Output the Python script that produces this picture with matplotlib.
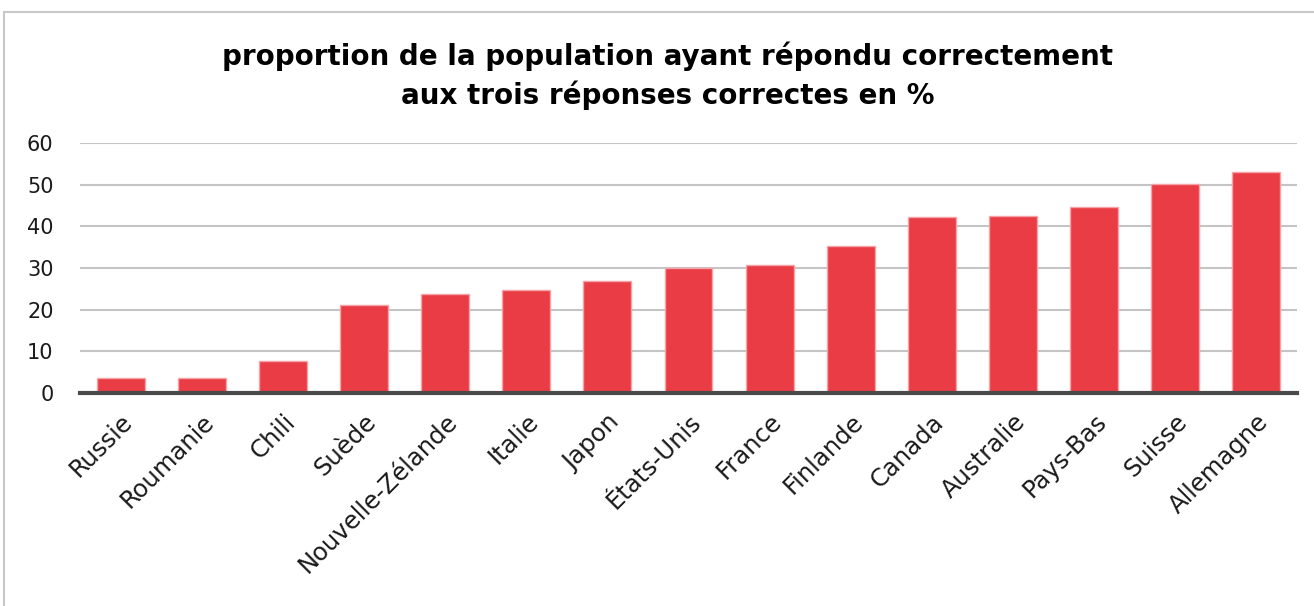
import matplotlib
matplotlib.use("Agg")
import matplotlib.pyplot as plt
from matplotlib.patches import Rectangle
import numpy as np

countries = ["Russie", "Roumanie", "Chili", "Suède", "Nouvelle-Zélande", "Italie",
             "Japon", "États-Unis", "France", "Finlande", "Canada", "Australie",
             "Pays-Bas", "Suisse", "Allemagne"]
values = [3.5, 3.5, 7.6, 21.2, 23.8, 24.7, 26.8, 30.1, 30.8, 35.4, 42.3, 42.5, 44.6, 50.1, 53.0]
yticks = [0, 10, 20, 30, 40, 50, 60]
title = "proportion de la population ayant répondu correctement\naux trois réponses correctes en %"

plt.rcParams['font.family'] = ['DejaVu Sans']

fig = plt.figure(figsize=(13.14, 6.06), dpi=100)
ax = fig.add_axes([80/1314, 1 - 393/606, (1297-80)/1314, 250/606])

x = np.arange(len(countries))
ax.bar(x, values, width=0.59, color='#E93C44', edgecolor='#F5A3A8', linewidth=1, zorder=3)

ax.set_xlim(-0.5, len(countries) - 0.5)
ax.set_ylim(0, 60)
ax.set_yticks(yticks)
ax.set_yticklabels([str(v) for v in yticks], fontsize=15, color='#1a1a1a')
ax.set_xticks(x)
ax.set_xticklabels(countries, rotation=45, ha='right', rotation_mode='anchor',
                   fontsize=17.5, color='#1a1a1a')
ax.tick_params(axis='both', length=0)
ax.tick_params(axis='y', pad=19)
ax.tick_params(axis='x', pad=12)

ax.grid(axis='y', color='#c4c4c4', linewidth=1.5, zorder=0)
for s in ['top', 'right', 'left']:
    ax.spines[s].set_visible(False)
ax.spines['bottom'].set_color('#4a4a4a')
ax.spines['bottom'].set_linewidth(3)
ax.spines['bottom'].set_zorder(4)

fig.text(668/1314, 1 - 76/606, title, ha='center', va='center', fontsize=20,
         fontweight='bold', linespacing=1.4)

# outer frame of the chart
fig.patches.append(Rectangle((4/1314, -0.1), 1.2, 1.1 - 12/606, transform=fig.transFigure,
                             fill=False, edgecolor='#c8c8c8', linewidth=1.5))

fig.savefig("out.png", dpi=100)
